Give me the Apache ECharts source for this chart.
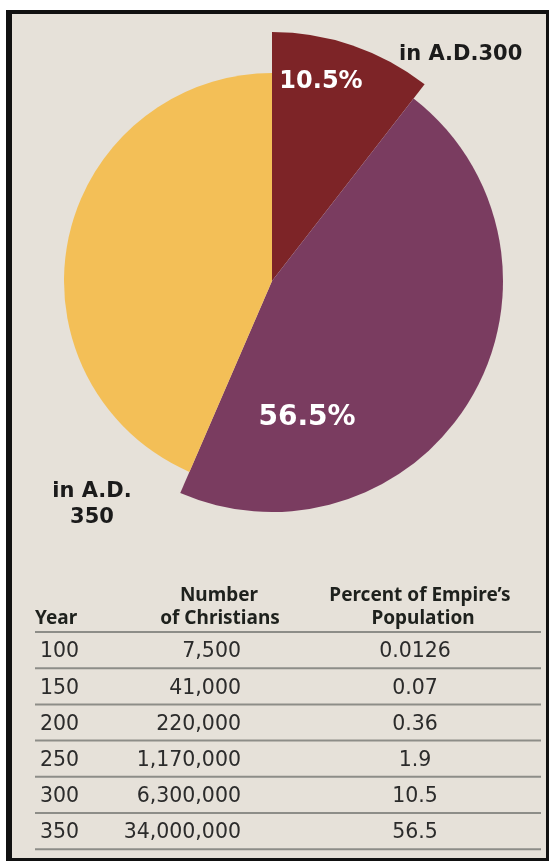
<!DOCTYPE html>
<html><head><meta charset="utf-8">
<script src="https://cdn.jsdelivr.net/npm/echarts@6/dist/echarts.min.js"></script>
<style>html,body{margin:0;padding:0;background:#fff;}#c{width:549px;height:861px;}</style>
</head><body><div id="c"></div>
<script>
// ---- data ----
const years = [100, 150, 200, 250, 300, 350];
const christians = [7500, 41000, 220000, 1170000, 6300000, 34000000];
const percents = [0.0126, 0.07, 0.36, 1.9, 10.5, 56.5];
const headerNumber = ['Number', 'of Christians'];
const headerPercent = ['Percent of Empire\u2019s', 'Population'];
const headerYear = 'Year';

// pie slices derived from the table: share in A.D.300, extra share by A.D.350, rest
const pieValues = [
  percents[4],
  +(percents[5] - percents[4]).toFixed(1),
  +(100 - percents[5]).toFixed(1)
];
const pieNames = ['A.D.300', 'A.D.350', 'Rest'];

// ---- styles ----
const COLORS = ['#7d2427', '#7a3c60', '#f3bf57'];
const RADII = [249, 231, 208];
const CENTER = [272, 281];

function fmt(n) { return String(n).replace(/\B(?=(\d{3})+(?!\d))/g, ','); }

function sliceSeries(idx) {
  return {
    type: 'pie',
    center: CENTER,
    radius: [0, RADII[idx]],
    startAngle: 90,
    clockwise: true,
    silent: true,
    animation: false,
    avoidLabelOverlap: false,
    label: { show: false },
    labelLine: { show: false },
    emphasis: { disabled: true },
    z: 2 + idx,
    data: pieValues.map((v, i) => ({
      name: pieNames[i],
      value: v,
      itemStyle: { color: i === idx ? COLORS[i] : 'rgba(0,0,0,0)', borderWidth: 0 }
    }))
  };
}

const g = [];
// frame
g.push({ type: 'rect', z: -10, shape: { x: 6, y: 10, width: 543, height: 851 }, style: { fill: '#111' } });
g.push({ type: 'rect', z: -9, shape: { x: 12, y: 14, width: 534, height: 844 }, style: { fill: '#e6e1d9' } });

// pie labels
g.push({ type: 'text', z: 100, x: 321, y: 82, style: { text: percents[4] + '%', fill: '#fff', font: 'bold 24px "DejaVu Sans"', align: 'center', verticalAlign: 'middle' } });
g.push({ type: 'text', z: 100, x: 307, y: 418, style: { text: percents[5] + '%', fill: '#fff', font: 'bold 28px "DejaVu Sans"', align: 'center', verticalAlign: 'middle' } });
g.push({ type: 'text', z: 100, x: 399, y: 55, style: { text: 'in A.D.' + years[4], fill: '#1b1b1b', font: 'bold 21px "DejaVu Sans"', align: 'left', verticalAlign: 'middle' } });
g.push({ type: 'text', z: 100, x: 92, y: 492, style: { text: 'in A.D.', fill: '#1b1b1b', font: 'bold 21px "DejaVu Sans"', align: 'center', verticalAlign: 'middle' } });
g.push({ type: 'text', z: 100, x: 92, y: 518, style: { text: String(years[5]), fill: '#1b1b1b', font: 'bold 21px "DejaVu Sans"', align: 'center', verticalAlign: 'middle' } });

// table headers
const hFont = 'bold 19px "Noto Sans"';
const hCol = '#1e211d';
g.push({ type: 'text', z: 100, x: 35, y: 619, style: { text: headerYear, fill: hCol, font: hFont, align: 'left', verticalAlign: 'middle' } });
g.push({ type: 'text', z: 100, x: 219, y: 596, style: { text: headerNumber[0], fill: hCol, font: hFont, align: 'center', verticalAlign: 'middle' } });
g.push({ type: 'text', z: 100, x: 220, y: 619, style: { text: headerNumber[1], fill: hCol, font: hFont, align: 'center', verticalAlign: 'middle' } });
g.push({ type: 'text', z: 100, x: 420, y: 596, style: { text: headerPercent[0], fill: hCol, font: hFont, align: 'center', verticalAlign: 'middle' } });
g.push({ type: 'text', z: 100, x: 423, y: 619, style: { text: headerPercent[1], fill: hCol, font: hFont, align: 'center', verticalAlign: 'middle' } });

// table rows
const tableTop = 632, rowStep = 36.2;
const rFont = '20.5px "DejaVu Sans"';
const rCol = '#2b2b2b';
g.push({ type: 'line', z: 50, shape: { x1: 35, y1: tableTop, x2: 541, y2: tableTop }, style: { stroke: '#8d8d88', lineWidth: 2 } });
years.forEach((yr, i) => {
  const yc = tableTop + rowStep * (i + 0.5) + 2;
  const yl = tableTop + rowStep * (i + 1);
  g.push({ type: 'text', z: 100, x: 40, y: yc, style: { text: String(yr), fill: rCol, font: rFont, align: 'left', verticalAlign: 'middle' } });
  g.push({ type: 'text', z: 100, x: 241, y: yc, style: { text: fmt(christians[i]), fill: rCol, font: rFont, align: 'right', verticalAlign: 'middle' } });
  g.push({ type: 'text', z: 100, x: 415, y: yc, style: { text: String(percents[i]), fill: rCol, font: rFont, align: 'center', verticalAlign: 'middle' } });
  g.push({ type: 'line', z: 50, shape: { x1: 35, y1: yl, x2: 541, y2: yl }, style: { stroke: '#8d8d88', lineWidth: 2 } });
});

const chart = echarts.init(document.getElementById('c'), null, { renderer: 'canvas' });
chart.setOption({
  backgroundColor: '#ffffff',
  animation: false,
  graphic: { elements: g },
  series: [sliceSeries(0), sliceSeries(1), sliceSeries(2)]
});
</script>
</body></html>
